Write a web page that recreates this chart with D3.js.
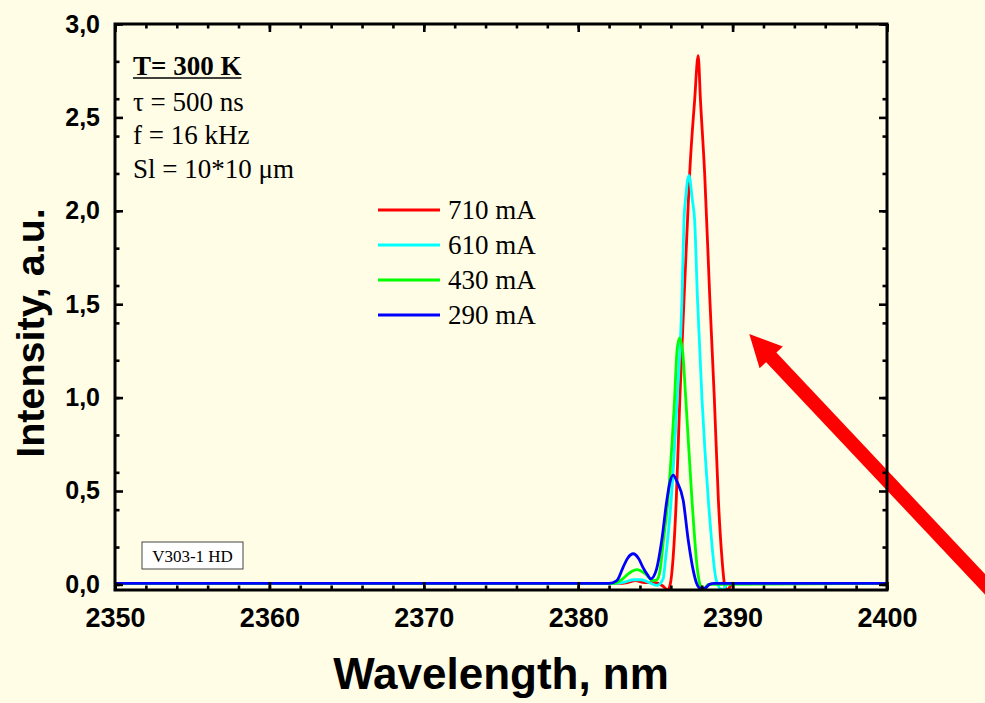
<!DOCTYPE html>
<html>
<head>
<meta charset="utf-8">
<script src="https://cdn.jsdelivr.net/npm/d3@7"></script>
<style>
  body { margin: 0; background: #fffde6; }
  svg { display: block; }
</style>
</head>
<body>
<div id="chart"></div>
<script>
// spectra: wavelength (nm) / intensity (a.u.)
const wl710  = [2350, 2382.5, 2383.2, 2383.7, 2384.3, 2385.0, 2385.5, 2385.8, 2385.96, 2386.35, 2386.58, 2386.85, 2387.08, 2387.22, 2387.54, 2387.77, 2387.92, 2388.19, 2388.53, 2388.82, 2389.08, 2389.32, 2389.48, 2389.65, 2390.0, 2400];
const int710 = [0.005, 0.005, 0.01, 0.02, 0.01, 0.01, -0.01, -0.03, 0.0, 0.45, 0.99, 1.52, 1.95, 2.20, 2.59, 2.83, 2.59, 2.20, 1.52, 0.99, 0.45, 0.13, 0.0, -0.03, 0.005, 0.005];

const wl610  = [2350, 2382.3, 2383.0, 2383.6, 2384.1, 2384.6, 2385.1, 2385.5, 2385.65, 2386.02, 2386.41, 2386.72, 2386.85, 2386.95, 2387.17, 2387.39, 2387.54, 2387.73, 2388.02, 2388.43, 2388.95, 2389.33, 2389.72, 2400];
const int610 = [0.005, 0.005, 0.012, 0.025, 0.025, 0.01, -0.005, 0.03, 0.13, 0.45, 0.99, 1.52, 1.95, 2.06, 2.19, 2.06, 1.95, 1.52, 0.99, 0.45, 0.02, -0.03, 0.005, 0.005];

const wl430  = [2350, 2382.2, 2382.8, 2383.3, 2383.8, 2384.3, 2384.85, 2385.1, 2385.3, 2385.5, 2385.81, 2386.24, 2386.4, 2386.56, 2386.76, 2386.97, 2387.37, 2387.72, 2387.92, 2388.1, 2388.42, 2400];
const int430 = [0.005, 0.005, 0.025, 0.06, 0.079, 0.06, 0.02, 0.025, 0.075, 0.22, 0.45, 0.99, 1.25, 1.32, 1.25, 0.99, 0.45, 0.08, -0.01, -0.03, 0.0, 0.005];

const wl290  = [2350, 2382.0, 2382.5, 2382.9, 2383.2, 2383.57, 2383.9, 2384.2, 2384.5, 2384.7, 2385.05, 2385.41, 2385.74, 2385.95, 2386.15, 2386.4, 2386.8, 2387.13, 2387.45, 2387.65, 2387.9, 2388.2, 2388.5, 2388.8, 2400];
const int290 = [0.005, 0.005, 0.02, 0.09, 0.14, 0.164, 0.14, 0.09, 0.05, 0.03, 0.075, 0.235, 0.45, 0.55, 0.585, 0.55, 0.45, 0.235, 0.075, 0.01, -0.02, -0.02, 0.0, 0.005, 0.005];

const seriesLabels = ['710 mA', '610 mA', '430 mA', '290 mA'];
const seriesColors = ['#ff0000', '#00ffff', '#00ff00', '#0000ff'];

const xTicks = [2350, 2360, 2370, 2380, 2390, 2400];
const yTicks = [0, 0.5, 1.0, 1.5, 2.0, 2.5, 3.0];

const notes = ['T= 300 K', 'τ = 500 ns', 'f = 16 kHz', 'Sl = 10*10 μm'];
const sampleName = 'V303-1 HD';

const width = 985, height = 703;
// plot box: left/right/top/bottom in px
const box = { l: 115, r: 887, t: 24, b: 590 };

const svg = d3.select('#chart').append('svg')
  .attr('width', width)
  .attr('height', height);

svg.append('rect').attr('width', width).attr('height', height).attr('fill', '#fffde6');

const x = d3.scaleLinear().domain([2350, 2400]).range([box.l, box.r]);
const y = d3.scaleLinear().domain([-0.03, 3.0]).range([box.b, box.t]);

svg.append('clipPath').attr('id', 'plotClip')
  .append('rect')
  .attr('x', box.l).attr('y', box.t)
  .attr('width', box.r - box.l).attr('height', box.b - box.t);

// curves
const series = [
  { wl: wl710, v: int710 },
  { wl: wl610, v: int610 },
  { wl: wl430, v: int430 },
  { wl: wl290, v: int290 }
];

const line = d3.line()
  .x(d => x(d[0]))
  .y(d => y(d[1]))
  .curve(d3.curveMonotoneX);

const curves = svg.append('g').attr('clip-path', 'url(#plotClip)');
series.forEach((s, i) => {
  curves.append('path')
    .datum(d3.zip(s.wl, s.v))
    .attr('d', line)
    .attr('fill', 'none')
    .attr('stroke', seriesColors[i])
    .attr('stroke-width', 2.8)
    .attr('stroke-linejoin', 'round');
});

// red arrow pointing at the peak (data coords)
const arrowTail = [2407.5, -0.10], arrowTip = [2391.08, 1.34];
{
  const tx = x(arrowTail[0]), ty = y(arrowTail[1]);
  const hx = x(arrowTip[0]), hy = y(arrowTip[1]);
  const len = Math.hypot(hx - tx, hy - ty);
  const ux = (hx - tx) / len, uy = (hy - ty) / len;
  const headLen = 32, headHalf = 16;
  const bx = hx - ux * headLen, by = hy - uy * headLen;
  svg.append('line')
    .attr('x1', tx).attr('y1', ty)
    .attr('x2', bx + ux * 2).attr('y2', by + uy * 2)
    .attr('stroke', '#ff0000')
    .attr('stroke-width', 14);
  svg.append('polygon')
    .attr('points', [
      [hx, hy],
      [bx - uy * headHalf, by + ux * headHalf],
      [bx + uy * headHalf, by - ux * headHalf]
    ].map(p => p.join(',')).join(' '))
    .attr('fill', '#ff0000');
}

// axes, ticks pointing inwards
const fmt = d => d3.format('.1f')(d).replace('.', ',');
const sans = '"Liberation Sans", Arial, sans-serif';

function styleAxis(g, size) {
  g.select('.domain').remove();
  g.selectAll('.tick line').attr('stroke', '#000').attr('stroke-width', 2.6);
  g.selectAll('.tick text')
    .attr('fill', '#000')
    .style('font-family', sans)
    .style('font-weight', 'bold')
    .style('font-size', (size || 25) + 'px');
}

const xMinor = x.ticks(25);
const yMinor = y.ticks(12);

svg.append('g').attr('transform', `translate(0,${box.b})`)
  .call(d3.axisBottom(x).tickValues(xMinor).tickSize(-4.5).tickFormat(''))
  .call(styleAxis);
svg.append('g').attr('transform', `translate(0,${box.b})`)
  .call(d3.axisBottom(x).tickValues(xTicks).tickSize(-8).tickPadding(18).tickFormat(d3.format('d')))
  .call(styleAxis, 27);
svg.append('g').attr('transform', `translate(0,${box.t})`)
  .call(d3.axisTop(x).tickValues(xMinor).tickSize(-4.5).tickFormat(''))
  .call(styleAxis);
svg.append('g').attr('transform', `translate(0,${box.t})`)
  .call(d3.axisTop(x).tickValues(xTicks).tickSize(-8).tickFormat(''))
  .call(styleAxis);

svg.append('g').attr('transform', `translate(${box.l},0)`)
  .call(d3.axisLeft(y).tickValues(yMinor).tickSize(-4.5).tickFormat(''))
  .call(styleAxis);
svg.append('g').attr('transform', `translate(${box.l},0)`)
  .call(d3.axisLeft(y).tickValues(yTicks).tickSize(-8).tickPadding(15).tickFormat(fmt))
  .call(styleAxis, 25);
svg.append('g').attr('transform', `translate(${box.r},0)`)
  .call(d3.axisRight(y).tickValues(yMinor).tickSize(-4.5).tickFormat(''))
  .call(styleAxis);
svg.append('g').attr('transform', `translate(${box.r},0)`)
  .call(d3.axisRight(y).tickValues(yTicks).tickSize(-8).tickFormat(''))
  .call(styleAxis);

// frame
svg.append('rect')
  .attr('x', box.l).attr('y', box.t)
  .attr('width', box.r - box.l).attr('height', box.b - box.t)
  .attr('fill', 'none')
  .attr('stroke', '#000')
  .attr('stroke-width', 3);

// axis titles
svg.append('text')
  .attr('x', (box.l + box.r) / 2)
  .attr('y', 689)
  .attr('text-anchor', 'middle')
  .style('font-family', sans)
  .style('font-weight', 'bold')
  .style('font-size', '44px')
  .text('Wavelength, nm');

svg.append('text')
  .attr('transform', 'translate(44,333) rotate(-90)')
  .attr('text-anchor', 'middle')
  .style('font-family', sans)
  .style('font-weight', 'bold')
  .style('font-size', '39.5px')
  .text('Intensity, a.u.');

// measurement conditions
const serif = '"Liberation Serif", "Times New Roman", serif';
const noteY = [75, 111, 144, 178];
notes.forEach((t, i) => {
  const el = svg.append('text')
    .attr('x', box.l + 18)
    .attr('y', noteY[i])
    .style('font-family', serif)
    .style('font-size', '27px')
    .style('font-weight', i === 0 ? 'bold' : 'normal')
    .text(t);
  if (i === 0) {
    const w = el.node().getComputedTextLength();
    svg.append('line')
      .attr('x1', box.l + 18).attr('x2', box.l + 18 + w)
      .attr('y1', noteY[i] + 3).attr('y2', noteY[i] + 3)
      .attr('stroke', '#000').attr('stroke-width', 1.6);
  }
});

// legend
const legend = svg.append('g').attr('transform', 'translate(378,210)');
seriesLabels.forEach((lbl, i) => {
  const row = legend.append('g').attr('transform', `translate(0,${i * 35})`);
  row.append('line')
    .attr('x1', 0).attr('x2', 62)
    .attr('stroke', seriesColors[i])
    .attr('stroke-width', 2.8);
  row.append('text')
    .attr('x', 70).attr('y', 9)
    .style('font-family', serif)
    .style('font-size', '27px')
    .text(lbl);
});

// sample label box
const sample = svg.append('g').attr('transform', 'translate(142,542)');
sample.append('rect')
  .attr('width', 101).attr('height', 27)
  .attr('fill', '#fff')
  .attr('stroke', '#444')
  .attr('stroke-width', 1);
sample.append('text')
  .attr('x', 50.5).attr('y', 20)
  .attr('text-anchor', 'middle')
  .style('font-family', serif)
  .style('font-size', '17px')
  .text(sampleName);
</script>
</body>
</html>
